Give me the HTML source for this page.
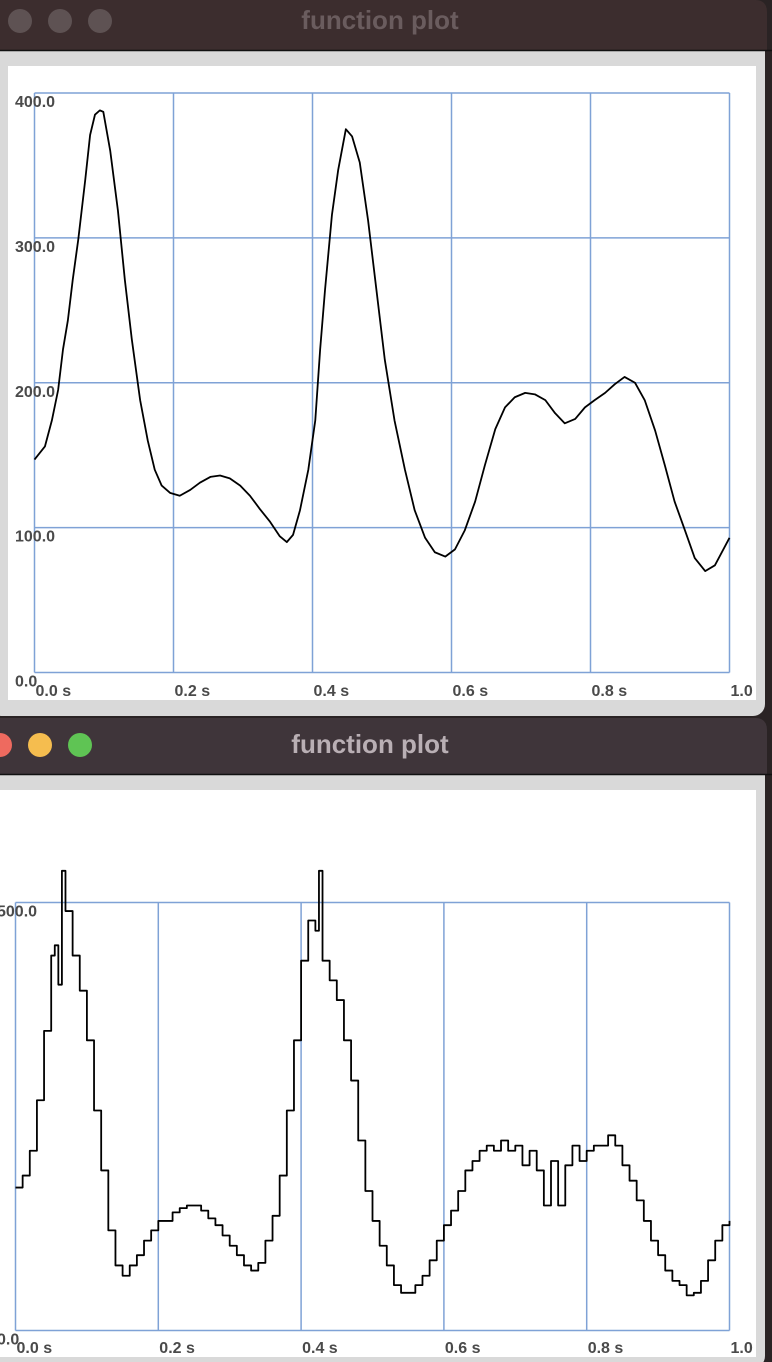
<!DOCTYPE html>
<html><head><meta charset="utf-8"><style>
html,body{margin:0;padding:0;background:#2a2324;}
svg{display:block}
text{font-family:"Liberation Sans",sans-serif;}
</style></head><body>
<svg id="s" width="772" height="1362" viewBox="0 0 772 1362" xmlns="http://www.w3.org/2000/svg">
 <g>
  <rect x="-10" y="0" width="775" height="716" rx="12" fill="#d9d9d9"/>
  <path d="M-10 0 H755 Q767 0 767 12 V50 H-10 Z" fill="#3c2d2e"/>
  <line x1="-10" y1="50.5" x2="772" y2="50.5" stroke="#111" stroke-width="1.5"/>
  <circle cx="20" cy="21" r="12" fill="#5e5253"/>
  <circle cx="60" cy="21" r="12" fill="#5e5253"/>
  <circle cx="100" cy="21" r="12" fill="#5e5253"/>
  <text x="380" y="29" font-size="26" font-weight="bold" fill="#6a5c5e" text-anchor="middle">function plot</text>
  <rect x="8" y="66" width="748" height="634" fill="#fff"/>
  <g id="g1"></g>
 </g>
 <g>
  <rect x="-10" y="718" width="775" height="650" rx="12" fill="#d9d9d9"/>
  <path d="M-10 718 H755 Q767 718 767 730 V774 H-10 Z" fill="#3f353a"/>
  <line x1="-10" y1="774.5" x2="772" y2="774.5" stroke="#111" stroke-width="1.5"/>
  <circle cx="0" cy="745" r="12" fill="#ee6a5f"/>
  <circle cx="40" cy="745" r="12" fill="#f5bd4f"/>
  <circle cx="80" cy="745" r="12" fill="#5fc454"/>
  <text x="370" y="753" font-size="26" font-weight="bold" fill="#b9afb4" text-anchor="middle">function plot</text>
  <rect x="0" y="790" width="756" height="567" fill="#fff"/>
  <g id="g2"></g>
 </g>
</svg>
<script>
const xTicks = [0, 0.2, 0.4, 0.6, 0.8, 1.0];
const xTickLabels = ["0.0 s","0.2 s","0.4 s","0.6 s","0.8 s","1.0"];
const topYTicks = [0, 100, 200, 300, 400];
const topYLabels = ["0.0","100.0","200.0","300.0","400.0"];
const topT = [0,0.015,0.025,0.034,0.041,0.048,0.055,0.063,0.073,0.08,0.087,0.094,0.099,0.109,0.12,0.13,0.14,0.152,0.163,0.173,0.183,0.195,0.209,0.224,0.238,0.253,0.267,0.281,0.296,0.31,0.324,0.339,0.353,0.363,0.372,0.382,0.394,0.404,0.411,0.418,0.428,0.437,0.448,0.457,0.468,0.48,0.492,0.504,0.518,0.533,0.547,0.562,0.576,0.591,0.605,0.619,0.634,0.648,0.663,0.677,0.691,0.706,0.72,0.735,0.749,0.763,0.778,0.792,0.806,0.821,0.835,0.849,0.864,0.878,0.893,0.907,0.921,0.936,0.95,0.965,0.979,1.0];
const topV = [147,156,174,195,223,243,271,299,340,371,385,388,387,360,319,271,230,188,160,140,129,124,122,126,131,135,136,134,129,122,113,104,94,90,95,112,140,174,223,264,316,347,375,370,352,312,264,216,174,140,112,93,83,80,85,98,118,143,168,183,190,193,192,188,179,172,175,183,188,193,199,204,200,188,167,143,118,98,79,70,74,93];
const botYTicks = [0, 500];
const botYLabels = ["0.0","500.0"];
const botT = [0,0.01,0.02,0.03,0.04,0.05,0.055,0.06,0.065,0.07,0.075,0.08,0.09,0.1,0.11,0.12,0.13,0.14,0.15,0.16,0.17,0.18,0.19,0.2,0.21,0.22,0.23,0.24,0.25,0.26,0.27,0.28,0.29,0.3,0.31,0.32,0.33,0.34,0.35,0.36,0.37,0.38,0.39,0.4,0.41,0.42,0.425,0.43,0.44,0.45,0.46,0.47,0.48,0.49,0.5,0.51,0.52,0.53,0.54,0.55,0.56,0.57,0.58,0.59,0.6,0.61,0.62,0.63,0.64,0.65,0.66,0.67,0.68,0.69,0.7,0.71,0.72,0.73,0.74,0.75,0.76,0.77,0.78,0.79,0.8,0.81,0.82,0.83,0.84,0.85,0.86,0.87,0.88,0.89,0.9,0.91,0.92,0.93,0.94,0.95,0.96,0.97,0.98,0.99,1.0];
const botV = [167,181,210,269,350,438,450,404,537,490,490,438,397,339,257,187,117,76,64,76,88,105,117,128,128,138,143,146,146,140,131,123,111,99,88,76,70,79,105,134,181,257,339,432,479,467,537,432,409,386,339,292,222,163,128,99,76,53,44,44,53,64,82,105,123,140,163,187,198,210,216,210,222,210,216,193,210,187,146,198,146,193,216,198,210,216,216,228,216,193,175,152,128,105,88,70,58,53,41,44,58,82,105,123,128];

const NS="http://www.w3.org/2000/svg";
function mk(tag, attrs, parent){const e=document.createElementNS(NS,tag);for(const k in attrs)e.setAttribute(k,attrs[k]);parent.appendChild(e);return e;}

function plot(gid, x0, x1, yBase, yTop, vmax, yTicks, yLabels, T, V, step, yLabX, xLabY){
  const g=document.getElementById(gid);
  const sx=t=>x0+t*(x1-x0);
  const sy=v=>yBase-v*(yBase-yTop)/vmax;
  xTicks.forEach((t,i)=>{
    const l=mk('line',{x1:sx(t),x2:sx(t),y1:yBase,y2:yTop,stroke:'#7fa2d6','stroke-width':1.5},g);
    
    
    const tx=mk('text',{x:sx(t)+1,y:xLabY,'font-size':16,'font-weight':'bold',fill:'#4a4a4a'},g);
    tx.textContent=xTickLabels[i];
    
    
  });
  yTicks.forEach((v,i)=>{
    const l=mk('line',{x1:x0,x2:x1,y1:sy(v),y2:sy(v),stroke:'#7fa2d6','stroke-width':1.5},g);
    
    
    const tx=mk('text',{x:yLabX,y:sy(v)+14,'font-size':16,'font-weight':'bold',fill:'#4a4a4a'},g);
    tx.textContent=yLabels[i];
    
    
  });
  let d='';
  T.forEach((t,i)=>{
    if(i===0){d+='M'+sx(t)+' '+sy(V[i]);}
    else if(step){d+=' H'+sx(t)+' V'+sy(V[i]);}
    else{d+=' L'+sx(t)+' '+sy(V[i]);}
  });
  const p=mk('path',{d:d,fill:'none',stroke:'#000','stroke-width':1.8,'stroke-linejoin':'round'},g);
  
  
}
plot('g1',34.5,729.5,672.5,93,400,topYTicks,topYLabels,topT,topV,false,15,696);
plot('g2',15.5,729.5,1330.5,902.5,500,botYTicks,botYLabels,botT,botV,true,-3,1353);
</script>
</body></html>
